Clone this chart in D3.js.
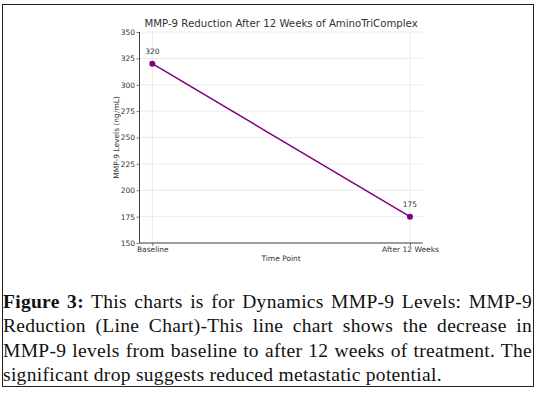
<!DOCTYPE html>
<html>
<head>
<meta charset="utf-8">
<script src="https://cdn.jsdelivr.net/npm/d3@7"></script>
<style>
  html, body { margin: 0; padding: 0; background: #fff; }
  #wrap { position: relative; width: 539px; height: 394px; overflow: hidden; }
  svg { position: absolute; left: 0; top: 0; }
  #frame { position: absolute; left: 2px; top: 4px; width: 532px; height: 383px; border: 1.3px solid #222; box-sizing: border-box; overflow: hidden; }
  #caption { position: absolute; left: 0px; top: 285px; width: 529px; font-family: "Liberation Serif", serif; font-size: 19.5px; letter-spacing: 0.3px; color: #111; }
  #caption div { height: 24.3px; line-height: 24.3px; text-align: justify; text-align-last: justify; white-space: nowrap; }
  #caption div.last { text-align-last: left; }
</style>
</head>
<body>
<div id="wrap">
  <svg id="chart" width="539" height="394"></svg>
  <div id="frame"><div id="caption"></div></div>
</div>
<script>
const categories = ["Baseline", "After 12 Weeks"];
const values = [320, 175];
const yTicks = [150, 175, 200, 225, 250, 275, 300, 325, 350];
const title = "MMP-9 Reduction After 12 Weeks of AminoTriComplex";
const xLabel = "Time Point";
const yLabel = "MMP-9 Levels (ng/mL)";
const captionLines = [
  ["Figure 3:", " This charts is for Dynamics MMP-9 Levels: MMP-9"],
  ["", "Reduction (Line Chart)-This line chart shows the decrease in"],
  ["", "MMP-9 levels from baseline to after 12 weeks of treatment. The"],
  ["", "significant drop suggests reduced metastatic potential."]
];

const svg = d3.select("#chart");
const pL = 139.5, pR = 422.7, pT = 32, pB = 243;
const x = d3.scalePoint().domain(categories).range([152.3, 410]);
const y = d3.scaleLinear().domain([150, 350]).range([pB, pT]);
const font = "DejaVu Sans, sans-serif";

// grid
const g = svg.append("g");
g.selectAll("line.hg").data(yTicks).enter().append("line")
  .attr("x1", pL).attr("x2", pR)
  .attr("y1", d => y(d)).attr("y2", d => y(d))
  .attr("stroke", "#e6e6e6").attr("stroke-width", 0.8);
g.selectAll("line.vg").data(categories).enter().append("line")
  .attr("x1", d => x(d)).attr("x2", d => x(d))
  .attr("y1", pT).attr("y2", pB)
  .attr("stroke", "#e6e6e6").attr("stroke-width", 0.8);

// axes
const yAxis = d3.axisLeft(y).tickValues(yTicks).tickSize(3).tickPadding(1.5);
const yg = svg.append("g").attr("transform", `translate(${pL},0)`).call(yAxis);
const xAxis = d3.axisBottom(x).tickSize(3).tickPadding(1);
const xg = svg.append("g").attr("transform", `translate(0,${pB})`).call(xAxis);
yg.select(".domain").attr("d", `M0,${pT}V${pB}`);
xg.select(".domain").attr("d", `M${pL},0H${pR}`);
[yg, xg].forEach(a => {
  a.select(".domain").attr("stroke", "#444").attr("stroke-width", 1);
  a.selectAll(".tick line").attr("stroke", "#444").attr("stroke-width", 0.7);
  a.selectAll(".tick text").attr("font-family", font).attr("font-size", 7.5).attr("fill", "#333");
});

// line
svg.append("path").datum(categories.map((c, i) => [c, values[i]]))
  .attr("fill", "none").attr("stroke", "#800080").attr("stroke-width", 1.5)
  .attr("d", d3.line().x(d => x(d[0])).y(d => y(d[1])));
svg.selectAll("circle.pt").data(categories).enter().append("circle")
  .attr("cx", d => x(d)).attr("cy", (d, i) => y(values[i])).attr("r", 3)
  .attr("fill", "#800080");
svg.selectAll("text.ann").data(categories).enter().append("text")
  .attr("x", d => x(d)).attr("y", (d, i) => y(values[i]) - 10)
  .attr("text-anchor", "middle").attr("font-family", font).attr("font-size", 7.5).attr("fill", "#333")
  .text((d, i) => values[i]);

// titles
svg.append("text").attr("x", (pL + pR) / 2).attr("y", 27)
  .attr("text-anchor", "middle").attr("font-family", font).attr("font-size", 10.2).attr("fill", "#333")
  .text(title);
svg.append("text").attr("x", (pL + pR) / 2).attr("y", 261)
  .attr("text-anchor", "middle").attr("font-family", font).attr("font-size", 7.5).attr("fill", "#333")
  .text(xLabel);
svg.append("text").attr("transform", `translate(119,${(pT + pB) / 2}) rotate(-90)`)
  .attr("text-anchor", "middle").attr("font-family", font).attr("font-size", 7.5).attr("fill", "#333")
  .text(yLabel);

// caption
const cap = d3.select("#caption");
captionLines.forEach((ln, i) => {
  const d = cap.append("div").attr("class", i === captionLines.length - 1 ? "last" : null);
  if (ln[0]) d.append("b").text(ln[0]);
  d.append("span").text(ln[1]);
});
</script>
</body>
</html>
